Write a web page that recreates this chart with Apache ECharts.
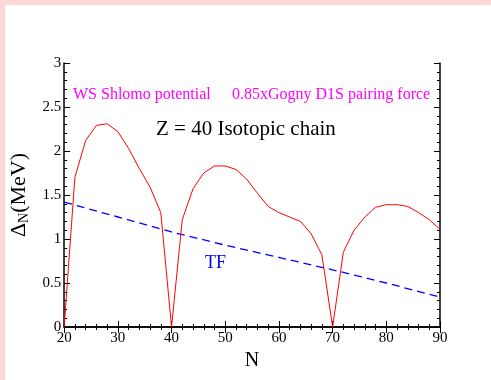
<!DOCTYPE html>
<html><head><meta charset="utf-8">
<script src="https://cdn.jsdelivr.net/npm/echarts@6/dist/echarts.min.js"></script>
<style>html,body{margin:0;padding:0;background:#fff;}#c{width:491px;height:380px;}</style>
</head><body><div id="c"></div>
<script>
const nValues = [20,22,24,26,28,30,32,34,36,38,40,42,44,46,48,50,52,54,56,58,60,62,64,66,68,70,72,74,76,78,80,82,84,86,88,90];
const gapWS = [0,1.70,2.12,2.29,2.31,2.22,2.03,1.80,1.59,1.30,0,1.22,1.57,1.75,1.83,1.83,1.79,1.68,1.52,1.37,1.30,1.25,1.20,1.06,0.82,0,0.85,1.10,1.25,1.36,1.39,1.39,1.37,1.30,1.22,1.11];
const nTF = [20,30,40,50,60,70,80,90];
const gapTF = [1.42,1.25,1.08,0.93,0.79,0.65,0.50,0.34];
const xTicks = [20,30,40,50,60,70,80,90];
const yTicks = [0,0.5,1,1.5,2,2.5,3];

const serif = '"Liberation Serif","DejaVu Serif",serif';
const chart = echarts.init(document.getElementById('c'));
function axBase(show){
  return {
    axisLine:{show:true,lineStyle:{color:'#000',width:1.5}},
    axisTick:{show:true,inside:true,length:6,lineStyle:{color:'#000',width:1}},
    minorTick:{show:true,splitNumber:5,length:3,lineStyle:{color:'#000',width:1}},
    splitLine:{show:false},
    axisLabel:{show:show,color:'#000',fontFamily:serif,fontSize:15}
  };
}
chart.setOption({
  animation:false,
  backgroundColor:'#ffd6d6',
  graphic:[{type:'rect',z:-10,shape:{x:5,y:5,width:486,height:375},style:{fill:'#fff'}},
    {type:'text',left:73,top:87,style:{text:'WS Shlomo potential',fill:'#ff00ff',font:'16px '+serif}},
    {type:'text',left:232,top:87,style:{text:'0.85xGogny D1S pairing force',fill:'#ff00ff',font:'16px '+serif}},
    {type:'text',left:156,top:119,style:{text:'Z = 40 Isotopic chain',fill:'#000',font:'21px '+serif}},
    {type:'text',left:205,top:254,style:{text:'TF',fill:'#0000ff',font:'18px '+serif}}
  ],
  grid:{left:62,right:51,top:63,bottom:53},
  xAxis:[
    Object.assign(axBase(true),{type:'value',min:20,max:90,interval:10,position:'bottom',
      name:'N',nameLocation:'middle',nameGap:20,nameTextStyle:{fontFamily:serif,fontSize:20,color:'#000'},
      axisLabel:{color:'#000',fontFamily:serif,fontSize:15,margin:4,formatter:v=>xTicks.includes(v)?String(v):''}}),
    Object.assign(axBase(false),{type:'value',min:20,max:90,interval:10,position:'top'})
  ],
  yAxis:[
    Object.assign(axBase(true),{type:'value',min:0,max:3,interval:0.5,position:'left',
      name:'{a|Δ}{b|N}{a|(MeV)}',nameLocation:'middle',nameGap:28,nameRotate:90,
      nameTextStyle:{rich:{a:{fontFamily:serif,fontSize:22,color:'#000'},b:{fontFamily:serif,fontSize:14,color:'#000',padding:[11,0,0,0]}}},
      axisLabel:{color:'#000',fontFamily:serif,fontSize:15,margin:3,formatter:v=>yTicks.includes(v)?String(v):''}}),
    Object.assign(axBase(false),{type:'value',min:0,max:3,interval:0.5,position:'right'})
  ],
  series:[
    {type:'line',data:nValues.map((n,i)=>[n,gapWS[i]]),symbol:'none',lineStyle:{color:'#ff0000',width:1},z:3},
    {type:'line',data:nTF.map((n,i)=>[n,gapTF[i]]),symbol:'none',lineStyle:{color:'#0000ff',width:1.3,type:[8,5]},z:2}
  ]
});
</script></body></html>
